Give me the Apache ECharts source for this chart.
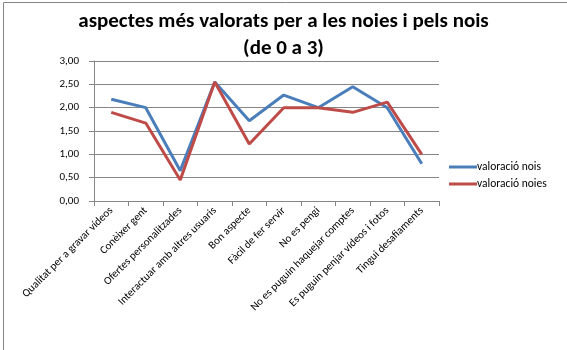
<!DOCTYPE html>
<html>
<head>
<meta charset="utf-8">
<script src="https://cdn.jsdelivr.net/npm/echarts@6/dist/echarts.min.js"></script>
<style>
  html, body { margin: 0; padding: 0; background: #fff; }
  #chart { width: 567px; height: 350px; }
</style>
</head>
<body>
<div id="chart"></div>
<script>
// Categories (aspectes valorats)
const categories = [
  'Qualitat per a gravar vídeos',
  'Conèixer gent',
  'Ofertes personalitzades',
  'Interactuar amb altres usuaris',
  'Bon aspecte',
  'Fàcil de fer servir',
  'No es pengi',
  'No es puguin haquejar comptes',
  'Es puguin penjar vídeos i fotos',
  'Tingui desafiaments'
];

// Valoració mitjana (0 a 3)
const valoracioNois  = [2.18, 2.00, 0.65, 2.55, 1.72, 2.27, 2.00, 2.45, 2.00, 0.80];
const valoracioNoies = [1.90, 1.67, 0.45, 2.55, 1.22, 2.00, 2.00, 1.90, 2.12, 1.00];

const seriesNames = ['valoració nois', 'valoració noies'];
const yTicks = { min: 0, max: 3, interval: 0.5 };

const chart = echarts.init(document.getElementById('chart'), null, { renderer: 'canvas' });

const font = 'Carlito, "Open Sans", "Liberation Sans", sans-serif';

chart.setOption({
  animation: false,
  backgroundColor: '#ffffff',
  graphic: [{
    type: 'rect',
    shape: { x: 3.5, y: 2.5, width: 700, height: 500 },
    style: { fill: 'none', stroke: '#868686', lineWidth: 1 },
    silent: true
  }],
  title: {
    text: 'aspectes més valorats per a les noies i pels nois\n(de 0 a 3)',
    left: 'center',
    top: 3,
    textStyle: {
      fontFamily: font,
      fontSize: 21,
      fontWeight: 'bold',
      color: '#000',
      lineHeight: 27
    }
  },
  legend: {
    orient: 'vertical',
    left: 444,
    top: 156,
    itemWidth: 28,
    itemHeight: 3,
    itemGap: 5,
    icon: 'rect',
    textStyle: { fontFamily: font, fontSize: 11.5, color: '#000', padding: [0, 0, 0, -5] },
    data: seriesNames
  },
  grid: { left: 94, right: 128, top: 61, bottom: 149, containLabel: false },
  xAxis: {
    type: 'category',
    data: categories,
    boundaryGap: true,
    axisLine: { lineStyle: { color: '#868686', width: 1 } },
    axisTick: { show: true, length: 5, lineStyle: { color: '#868686' } },
    axisLabel: {
      rotate: 45,
      interval: 0,
      margin: 8,
      fontFamily: font,
      fontSize: 11,
      color: '#000'
    },
    splitLine: { show: false }
  },
  yAxis: {
    type: 'value',
    min: yTicks.min,
    max: yTicks.max,
    interval: yTicks.interval,
    axisLine: { show: true, lineStyle: { color: '#868686', width: 1 } },
    axisTick: { show: true, length: 5, lineStyle: { color: '#868686' } },
    axisLabel: {
      margin: 15,
      fontFamily: font,
      fontSize: 11,
      color: '#000',
      formatter: v => v.toFixed(2).replace('.', ',')
    },
    splitLine: { lineStyle: { color: '#868686', width: 1 } }
  },
  series: [
    {
      name: seriesNames[0],
      type: 'line',
      data: valoracioNois,
      showSymbol: false,
      symbol: 'none',
      color: '#4A7EBB',
      lineStyle: { color: '#4A7EBB', width: 3 }
    },
    {
      name: seriesNames[1],
      type: 'line',
      data: valoracioNoies,
      showSymbol: false,
      symbol: 'none',
      color: '#BE4B48',
      lineStyle: { color: '#BE4B48', width: 3 }
    }
  ]
});
</script>
</body>
</html>
